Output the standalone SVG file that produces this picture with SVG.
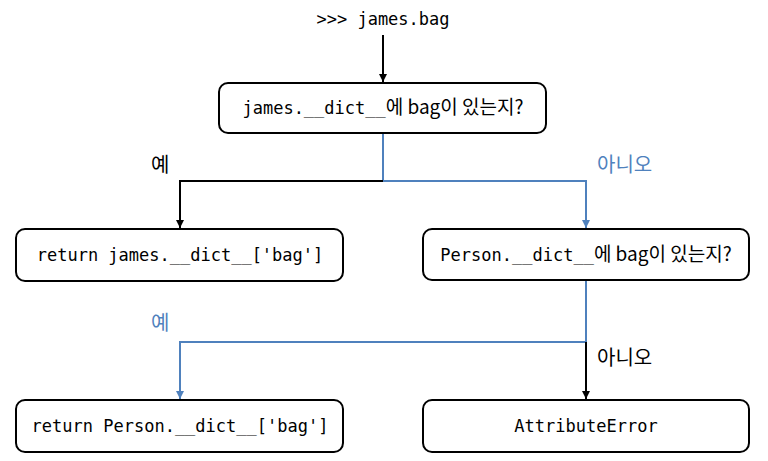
<svg xmlns="http://www.w3.org/2000/svg" width="768" height="461" viewBox="0 0 768 461">
<defs>
<marker id="ab" viewBox="0 0 10 10" refX="10" refY="5" markerWidth="4" markerHeight="4" orient="auto" markerUnits="strokeWidth"><path d="M0,0 L10,5 L0,10 z" fill="#000"/></marker>
<marker id="au" viewBox="0 0 10 10" refX="10" refY="5" markerWidth="4" markerHeight="4" orient="auto" markerUnits="strokeWidth"><path d="M0,0 L10,5 L0,10 z" fill="#4f81bd"/></marker>
<style>
.box{fill:#fff;stroke:#000;stroke-width:2}
.t{font-family:"DejaVu Sans Mono","Noto Sans CJK KR",monospace;font-size:17px;fill:#000;text-anchor:middle}
.k{font-family:"Noto Sans CJK KR",sans-serif;font-size:19px}
.lbl{font-family:"Noto Sans CJK KR",sans-serif;font-size:20px}
.b{fill:none;stroke:#000;stroke-width:2}
.u{fill:none;stroke:#4f81bd;stroke-width:2}
</style>
</defs>
<text x="383" y="25" class="t">&gt;&gt;&gt; james.bag</text>
<g id="connectors">
<path class="b" d="M383,35 V82" marker-end="url(#ab)"/>
<path class="u" d="M383,134 V181 H586 V228" marker-end="url(#au)"/>
<path class="b" d="M383,181 H180 V228" marker-end="url(#ab)"/>
<path class="u" d="M586,281 V342 H180 V399" marker-end="url(#au)"/>
<path class="b" d="M586,342 V399" marker-end="url(#ab)"/>
<text x="151" y="172" class="lbl" fill="#000">예</text>
<text x="597" y="172" class="lbl" fill="#4f81bd">아니오</text>
<text x="151" y="330" class="lbl" fill="#4f81bd">예</text>
<text x="597" y="365" class="lbl" fill="#000">아니오</text>
</g>
<g id="n1"><rect class="box" x="219" y="83" width="327" height="50" rx="9"/><text x="383" y="114" class="t">james.__dict__<tspan class="k">에 bag이 있는지?</tspan></text></g>
<g id="n2"><rect class="box" x="16" y="229" width="327" height="52" rx="9"/><text x="180" y="261" class="t">return james.__dict__['bag']</text></g>
<g id="n3"><rect class="box" x="423" y="229" width="326" height="51" rx="9"/><text x="586" y="261" class="t">Person.__dict__<tspan class="k">에 bag이 있는지?</tspan></text></g>
<g id="n4"><rect class="box" x="16" y="400" width="327" height="52" rx="9"/><text x="180" y="432" class="t">return Person.__dict__['bag']</text></g>
<g id="n5"><rect class="box" x="423" y="400" width="326" height="52" rx="9"/><text x="586" y="432" class="t">AttributeError</text></g>
</svg>
